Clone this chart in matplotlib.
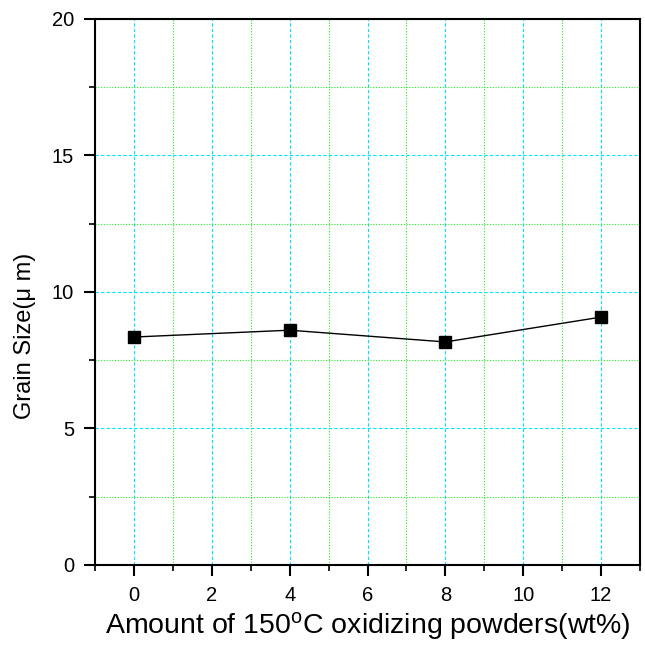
import numpy as np
import matplotlib.pyplot as plt
from matplotlib.ticker import MultipleLocator

# data
amount_wt = [0, 4, 8, 12]
grain_size = [8.35, 8.6, 8.17, 9.08]

plt.rcParams["font.family"] = ["Liberation Sans", "DejaVu Sans"]
plt.rcParams["mathtext.fontset"] = "custom"
plt.rcParams["mathtext.rm"] = "Liberation Sans"
plt.rcParams["mathtext.it"] = "Liberation Sans"

fig = plt.figure(figsize=(6.45, 6.5), dpi=100)
ax = fig.add_axes([0.1473, 0.1308, 0.845, 0.84])

ax.plot(amount_wt, grain_size, color="black", linewidth=1.0,
        marker="s", markersize=8.5, zorder=3)

ax.set_xlim(-1, 13)
ax.set_ylim(0, 20)
ax.xaxis.set_major_locator(MultipleLocator(2))
ax.xaxis.set_minor_locator(MultipleLocator(1))
ax.yaxis.set_major_locator(MultipleLocator(5))
ax.yaxis.set_minor_locator(MultipleLocator(2.5))

# grid: cyan dashed major, green dotted minor
ax.grid(which="major", color="#00e5ff", linestyle=(0, (3, 2)), linewidth=0.8)
ax.grid(which="minor", color="#22ee22", linestyle=(0, (1, 1.5)), linewidth=0.8)
ax.set_axisbelow(True)

ax.tick_params(which="major", direction="out", length=8, width=1.5,
               labelsize=14.5, top=False, right=False)
ax.tick_params(axis="x", which="major", pad=7)
ax.tick_params(axis="y", which="major", pad=7)
ax.tick_params(which="minor", direction="out", length=4, width=1.2,
               top=False, right=False)
for s in ax.spines.values():
    s.set_linewidth(1.5)

ax.set_xlabel("Amount of 150$^\\mathrm{o}$C oxidizing powders(wt%)", fontsize=20.5)
ax.xaxis.set_label_coords(0.5, -0.083)
ax.set_ylabel("Grain Size(\u03bc m)", fontsize=17)
ax.yaxis.set_label_coords(-0.108, 0.42)

fig.savefig("out.png", dpi=100)
